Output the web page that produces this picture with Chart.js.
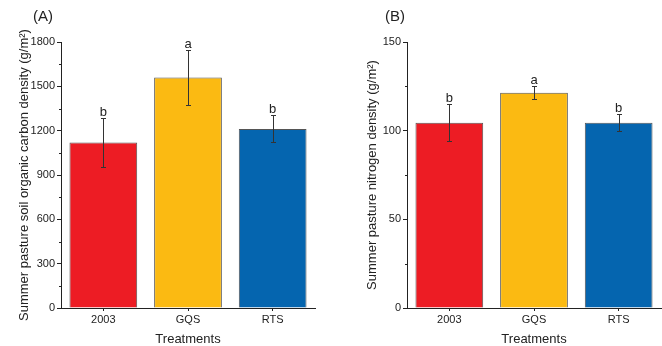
<!DOCTYPE html>
<html>
<head>
<meta charset="utf-8">
<script src="https://cdn.jsdelivr.net/npm/chart.js@4.4.1/dist/chart.umd.min.js"></script>
<style>
  html, body { margin: 0; padding: 0; background: #fff; }
  #wrap { position: relative; width: 662px; height: 346px; }
  .panel { position: absolute; top: 0; width: 331px; height: 346px; }
</style>
</head>
<body>
<div id="wrap">
  <div class="panel" style="left:0"><canvas id="chartA" width="331" height="346"></canvas></div>
  <div class="panel" style="left:331px"><canvas id="chartB" width="331" height="346"></canvas></div>
</div>
<script>
const treatments = ['2003', 'GQS', 'RTS'];
const barColors = ['#ED1C24', '#FBBA12', '#0565AF'];

const socDensity = [1120, 1560, 1212];
const socError = [167, 184, 92];
const socLetters = ['b', 'a', 'b'];

const nDensity = [104.5, 121.4, 104.5];
const nError = [10.3, 3.6, 4.7];
const nLetters = ['b', 'a', 'b'];

const FONT = "'Liberation Sans', Arial, sans-serif";
const INK = '#222';

// error bars, significance letters, minor y ticks, panel tag
const extrasPlugin = {
  id: 'extras',
  afterDatasetsDraw(chart, args, opts) {
    const ctx = chart.ctx;
    const x = chart.scales.x, y = chart.scales.y;
    const meta = chart.getDatasetMeta(0);
    ctx.save();
    ctx.strokeStyle = '#333';
    ctx.lineWidth = 1;
    meta.data.forEach((bar, i) => {
      const v = chart.data.datasets[0].data[i];
      const e = opts.errors[i];
      const cx = Math.round(bar.x) + 0.5;
      const yt = Math.round(y.getPixelForValue(v + e)) + 0.5;
      const yb = Math.round(y.getPixelForValue(v - e)) + 0.5;
      ctx.beginPath();
      ctx.moveTo(cx, yt); ctx.lineTo(cx, yb);
      ctx.moveTo(cx - 2.5, yt); ctx.lineTo(cx + 2.5, yt);
      ctx.moveTo(cx - 2.5, yb); ctx.lineTo(cx + 2.5, yb);
      ctx.stroke();
      ctx.fillStyle = INK;
      ctx.font = '13px ' + FONT;
      ctx.textAlign = 'center';
      ctx.textBaseline = 'alphabetic';
      ctx.fillText(opts.letters[i], bar.x, yt - 3);
    });
    // minor ticks halfway between majors
    const ticks = y.ticks;
    ctx.strokeStyle = INK;
    for (let k = 0; k < ticks.length - 1; k++) {
      const mid = (ticks[k].value + ticks[k + 1].value) / 2;
      const py = Math.round(y.getPixelForValue(mid)) + 0.5;
      ctx.beginPath();
      ctx.moveTo(x.left - 2, py); ctx.lineTo(x.left, py);
      ctx.stroke();
    }
    ctx.fillStyle = INK;
    ctx.font = '15px ' + FONT;
    ctx.textAlign = 'left';
    ctx.textBaseline = 'middle';
    ctx.fillText(opts.tag, opts.tagX, 17);
    ctx.restore();
  }
};

function makeChart(id, values, errors, letters, yMax, yStep, yTitle, yWidth, titlePad, padRight, tag, tagX) {
  return new Chart(document.getElementById(id), {
    type: 'bar',
    data: {
      labels: treatments,
      datasets: [{
        data: values,
        backgroundColor: barColors,
        borderColor: '#555',
        borderWidth: 1,
        barPercentage: 0.8,
        categoryPercentage: 1.0,
      }],
    },
    options: {
      responsive: false,
      animation: false,
      events: [],
      layout: { padding: { top: 42, right: padRight, left: 0, bottom: 0 } },
      plugins: {
        legend: { display: false },
        tooltip: { enabled: false },
        extras: { errors, letters, tag, tagX },
      },
      scales: {
        x: {
          offset: true,
          grid: { display: true, drawOnChartArea: false, offset: false, tickLength: 3, color: INK },
          border: { display: true, color: INK, width: 1 },
          ticks: { color: INK, font: { family: FONT, size: 11 }, padding: 2, maxRotation: 0 },
          title: { display: true, text: 'Treatments', color: INK, font: { family: FONT, size: 13 }, padding: { top: 0, bottom: -1 } },
          afterFit(s) { s.height = 38; },
        },
        y: {
          min: 0,
          max: yMax,
          ticks: { stepSize: yStep, color: INK, font: { family: FONT, size: 11 }, padding: 2,
                   callback: v => String(v) },
          grid: { display: true, drawOnChartArea: false, tickLength: 4, color: INK },
          border: { display: true, color: INK, width: 1 },
          title: { display: true, text: yTitle, color: INK, font: { family: FONT, size: 13 }, padding: { top: titlePad, bottom: 0 } },
          afterFit(s) { s.width = yWidth; },
        },
      },
    },
    plugins: [extrasPlugin],
  });
}

makeChart('chartA', socDensity, socError, socLetters, 1800, 300,
  'Summer pasture soil organic carbon density (g/m\u00B2)', 61, 17, 16, '(A)', 33);
makeChart('chartB', nDensity, nError, nLetters, 150, 50,
  'Summer pasture nitrogen density (g/m\u00B2)', 76, 34, 1, '(B)', 54);
</script>
</body>
</html>
